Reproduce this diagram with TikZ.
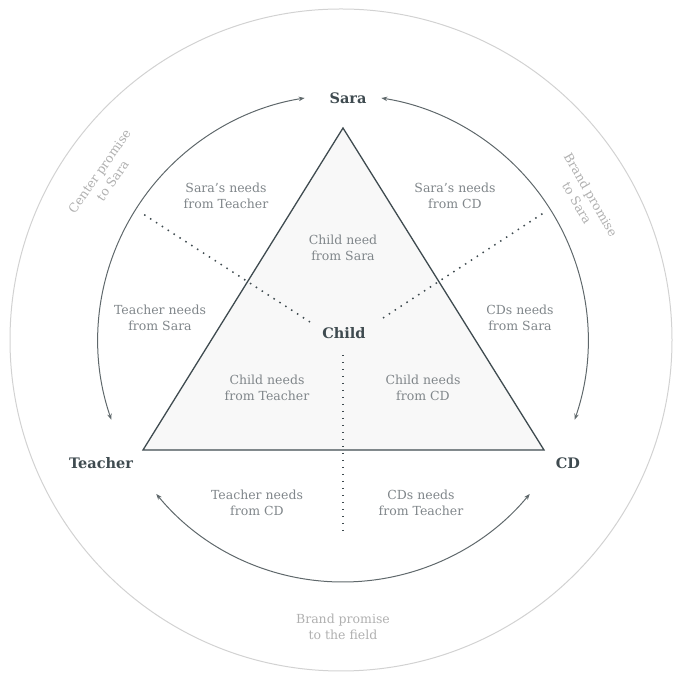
\documentclass[tikz,border=0pt]{standalone}
\usepackage{fontspec}
\setmainfont{DejaVu Serif}
\usetikzlibrary{arrows.meta}
\definecolor{dark}{HTML}{3F4B50}
\definecolor{arcc}{HTML}{5F686B}
\definecolor{lab}{HTML}{80868A}
\definecolor{pale}{HTML}{B0B0B0}
\definecolor{ring}{HTML}{D2D2D2}
\definecolor{tri}{HTML}{F8F8F8}
\tikzset{
  arcline/.style={draw=arcc, line width=1pt, {Stealth[length=6pt,width=4.5pt]}-{Stealth[length=6pt,width=4.5pt]}},
  dotline/.style={draw=dark, line width=1.5pt, dash pattern=on 1.5pt off 5.5pt},
  head/.style={text=dark, font=\fontsize{14.5}{16}\selectfont\bfseries},
  lbl/.style={text=lab, align=center, font=\fontsize{12.5}{16}\selectfont},
  promise/.style={text=pale, align=center, font=\fontsize{12.5}{16}\selectfont}
}
\begin{document}
\begin{tikzpicture}[x=1pt,y=1pt]
\useasboundingbox (0,0) rectangle (683,679);
\coordinate (O) at (341,339);
\coordinate (A) at (343,339);
\draw[ring, line width=1pt] (O) circle[radius=331pt];
% triangle
\coordinate (tS) at (343,551);
\coordinate (tT) at (143,229);
\coordinate (tC) at (544,229);
\draw[dark, fill=tri, line width=1.3pt, line join=miter] (tS) -- (tT) -- (tC) -- cycle;
% arcs
\draw[arcline] ([shift={(199:245pt)}]A) arc[start angle=199, end angle=99, radius=245pt];
\draw[arcline] ([shift={(-19:245pt)}]A) arc[start angle=-19, end angle=81, radius=245pt];
\draw[arcline] ([shift={(219.5:242pt)}]A) arc[start angle=219.5, end angle=320.5, radius=242pt];
% heads
\node[head] (sara) at (348,581) {Sara};
\node[head] (teacher) at (101,216) {Teacher};
\node[head] (cd) at (568,216) {CD};
\node[head] (child) at (344,346) {Child};
% dotted lines
\coordinate (dl1) at (310,357);
\coordinate (dl2) at (140,467);
\coordinate (dr1) at (383,361);
\coordinate (dr2) at (545,467);
\coordinate (dd1) at (343,324);
\coordinate (dd2) at (343,146);
\draw[dotline] (dl1) -- (dl2);
\draw[dotline] (dr1) -- (dr2);
\draw[dotline] (dd1) -- (dd2);
% labels
\node[lbl] (l1) at (226,483) {Sara’s needs\\from Teacher};
\node[lbl] (l2) at (455,483) {Sara’s needs\\from CD};
\node[lbl] (l3) at (343,431) {Child need\\from Sara};
\node[lbl] (l4) at (160,361) {Teacher needs\\from Sara};
\node[lbl] (l5) at (520,361) {CDs needs\\from Sara};
\node[lbl] (l6) at (267,291) {Child needs\\from Teacher};
\node[lbl] (l7) at (423,291) {Child needs\\from CD};
\node[lbl] (l8) at (257,176) {Teacher needs\\from CD};
\node[lbl] (l9) at (421,176) {CDs needs\\from Teacher};
\node[promise] (p1) at (343,52) {Brand promise\\to the field};
\node[promise, rotate=55] (p2) at (106,503) {Center promise\\to Sara};
\node[promise, rotate=-60] (p3) at (584,480) {Brand promise\\to Sara};
\end{tikzpicture}
\end{document}
